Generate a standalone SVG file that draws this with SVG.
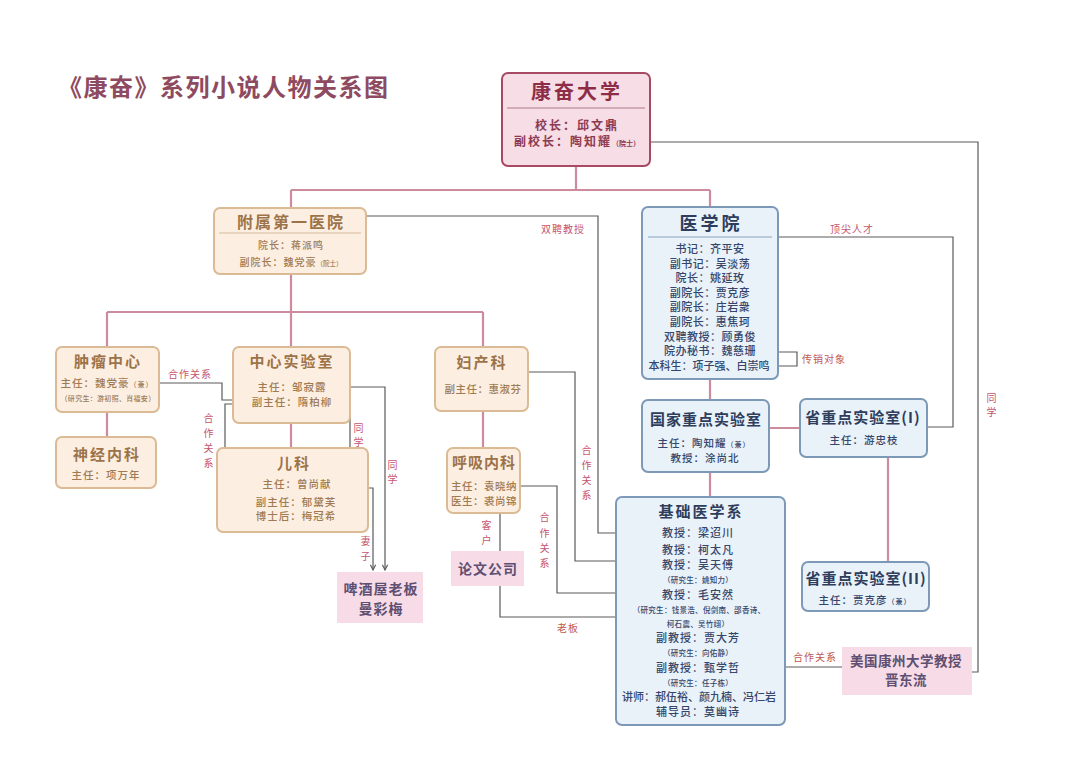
<svg xmlns="http://www.w3.org/2000/svg" width="1080" height="782" viewBox="0 0 1080 782">
<defs>
<style>
text{font-family:"Noto Sans CJK SC","Noto Sans",sans-serif;text-anchor:middle}
.tree{stroke:#cd8c9e;stroke-width:2.2;fill:none}
.link{stroke:#5a5a5a;stroke-width:1.2;fill:none}
.pk{fill:#f6dde6;stroke:#a84a64;stroke-width:2}
.pe{fill:#fcefe2;stroke:#dbbb95;stroke-width:2}
.bl{fill:#e9f1f9;stroke:#7d99b8;stroke-width:2}
.pp{fill:#f7dce7}
.sep-pk{stroke:#c99aa8;stroke-width:1.5}
.sep-pe{stroke:#e3cdb0;stroke-width:1.5}
.sep-bl{stroke:#a8bcd2;stroke-width:1.5}
.h-pk{fill:#8d2d48;font-weight:700}
.b-pk{fill:#8d3a52;font-weight:700}
.h-pe{fill:#9c7349;font-weight:700}
.b-pe{fill:#a07a52;font-weight:500}
.h-bl{fill:#2e3d5c;font-weight:700}
.b-bl{fill:#36466a;font-weight:500}
.t-pp{fill:#5f4f72;font-weight:700}
.lab{fill:#c4546e;font-size:10px;letter-spacing:1px}
.lab2{fill:#c0584e;font-size:10px;letter-spacing:1px}
</style>
<marker id="arr" viewBox="0 0 8 8" refX="7" refY="4" markerWidth="7" markerHeight="7" markerUnits="userSpaceOnUse" orient="auto">
<path d="M1,1 L7,4 L1,7" fill="none" stroke="#5a5a5a" stroke-width="1.3"/>
</marker>
</defs>
<rect width="1080" height="782" fill="#ffffff"/>

<text x="58" y="96" style="text-anchor:start;font-size:24px;letter-spacing:1.5px;fill:#8e4a60;font-weight:700">《康奋》系列小说人物关系图</text>

<g id="connectors">
<path class="tree" d="M576,166 V190 M291,190 H710 M291,190 V208 M710,190 V207"/>
<path class="tree" d="M291,274 V312 M107,312 H483 M107,312 V347 M291,312 V347 M483,312 V347"/>
<path class="tree" d="M107,412 V437 M291,423 V448 M483,411 V448"/>
<path class="tree" d="M710,379 V400 M769,428 H800 M888,457 V562 M710,472 V497"/>
<path class="link" d="M643,142 H978 V672 H972"/>
<path class="link" d="M366,216 H598 V533 H658"/>
<path class="link" d="M778,237 H953 V427 H927"/>
<path class="link" d="M757,352 H797 V366 H772" marker-end="url(#arr)"/>
<path class="link" d="M528,372 H575 V561 H660"/>
<path class="link" d="M520,486 H557 V593 H660"/>
<path class="link" d="M500,513 V551"/>
<path class="link" d="M500,586 V617 H713 V611 M680,617 V611"/>
<path class="link" d="M750,667 H842"/>
<path class="link" d="M159,383 H222 V400 H248"/>
<path class="link" d="M248,404 H225 V484 H258"/>
<path class="link" d="M327,387 H385 V570" marker-end="url(#arr)"/>
<path class="link" d="M350,387 V484 H334" marker-end="url(#arr)"/>
<path class="link" d="M336,488 H373 V570" marker-end="url(#arr)"/>
<text class="lab" x="563" y="233">双聘教授</text>
<text class="lab" x="852" y="233">顶尖人才</text>
<text class="lab2" x="824" y="363">传销对象</text>
<text class="lab" x="992" y="402">同</text><text class="lab" x="992" y="416">学</text>
<text class="lab" x="190" y="378">合作关系</text>
<text class="lab" x="209" y="422">合</text><text class="lab" x="209" y="437">作</text><text class="lab" x="209" y="452">关</text><text class="lab" x="209" y="467">系</text>
<text class="lab" x="359" y="432">同</text><text class="lab" x="359" y="446">学</text>
<text class="lab" x="393" y="469">同</text><text class="lab" x="393" y="483">学</text>
<text class="lab" x="366" y="545">妻</text><text class="lab" x="366" y="560">子</text>
<text class="lab" x="487" y="529">客</text><text class="lab" x="487" y="544">户</text>
<text class="lab" x="587" y="454">合</text><text class="lab" x="587" y="469">作</text><text class="lab" x="587" y="484">关</text><text class="lab" x="587" y="499">系</text>
<text class="lab" x="545" y="521">合</text><text class="lab" x="545" y="537">作</text><text class="lab" x="545" y="552">关</text><text class="lab" x="545" y="567">系</text>
<text class="lab2" x="568" y="632">老板</text>
<text class="lab2" x="815" y="661">合作关系</text>
</g>

<g id="kangfen-univ">
<rect class="pk" x="502" y="73" width="148" height="93" rx="6"/>
<text class="h-pk" x="577" y="99" style="font-size:20px;letter-spacing:3px">康奋大学</text>
<line class="sep-pk" x1="507" y1="108" x2="645" y2="108"/>
<text class="b-pk" x="577" y="130" style="font-size:12px;letter-spacing:2px">校长：邱文鼎</text>
<text class="b-pk" x="577" y="146" style="font-size:12px;letter-spacing:2px">副校长：陶知耀<tspan style="font-size:7px;letter-spacing:0">（院士）</tspan></text>
</g>

<g id="hospital">
<rect class="pe" x="214" y="208" width="152" height="66" rx="6"/>
<text class="h-pe" x="291" y="228" style="font-size:16px;letter-spacing:2px">附属第一医院</text>
<line class="sep-pe" x1="219" y1="233" x2="361" y2="233"/>
<text class="b-pe" x="291" y="249" style="font-size:10px;letter-spacing:1px">院长：蒋派鸣</text>
<text class="b-pe" x="291" y="266" style="font-size:10px;letter-spacing:1px">副院长：魏党豪<tspan style="font-size:6.5px;letter-spacing:0">（院士）</tspan></text>
</g>

<g id="medical-school">
<rect class="bl" x="642" y="207" width="136" height="172" rx="6"/>
<text class="h-bl" x="711" y="230" style="font-size:18px;letter-spacing:3px">医学院</text>
<line class="sep-bl" x1="648" y1="237" x2="772" y2="237"/>
<g class="b-bl" style="font-size:11px;letter-spacing:0.5px">
<text x="710" y="253">书记：齐平安</text>
<text x="710" y="268">副书记：吴淡荡</text>
<text x="710" y="282">院长：姚延玫</text>
<text x="710" y="297">副院长：贾克彦</text>
<text x="710" y="311">副院长：庄岩衆</text>
<text x="710" y="326">副院长：惠焦珂</text>
<text x="710" y="341">双聘教授：顾勇俊</text>
<text x="710" y="355">院办秘书：魏慈珊</text>
<text x="709" y="370" style="letter-spacing:0">本科生：项子强、白崇鸣</text>
</g>
</g>

<g id="national-lab">
<rect class="bl" x="642" y="400" width="127" height="72" rx="6"/>
<text class="h-bl" x="706" y="425" style="font-size:15px;letter-spacing:1px">国家重点实验室</text>
<text class="b-bl" x="704" y="447" style="font-size:10.5px;letter-spacing:1px">主任：陶知耀<tspan style="font-size:7px">（兼）</tspan></text>
<text class="b-bl" x="705" y="462" style="font-size:10.5px;letter-spacing:1px">教授：涂尚北</text>
</g>

<g id="prov-lab-1">
<rect class="bl" x="800" y="399" width="127" height="58" rx="6"/>
<text class="h-bl" x="863" y="423" style="font-size:15px;letter-spacing:1px">省重点实验室(I)</text>
<text class="b-bl" x="864" y="444" style="font-size:10.5px;letter-spacing:1px">主任：游忠枝</text>
</g>

<g id="prov-lab-2">
<rect class="bl" x="802" y="562" width="127" height="49" rx="6"/>
<text class="h-bl" x="866" y="584" style="font-size:15px;letter-spacing:1px">省重点实验室(II)</text>
<text class="b-bl" x="865" y="604" style="font-size:10.5px;letter-spacing:1px">主任：贾克彦<tspan style="font-size:7px">（兼）</tspan></text>
</g>

<g id="basic-med">
<rect class="bl" x="616" y="497" width="169" height="228" rx="6"/>
<text class="h-bl" x="701" y="517" style="font-size:15px;letter-spacing:2px">基础医学系</text>
<g class="b-bl" style="font-size:11px;letter-spacing:1px">
<text x="698" y="537">教授：梁迢川</text>
<text x="698" y="554">教授：柯太凡</text>
<text x="698" y="569">教授：吴天傅</text>
<text x="698" y="599">教授：毛安然</text>
<text x="698" y="642">副教授：贾大芳</text>
<text x="698" y="672">副教授：甄学哲</text>
<text x="699" y="701" style="letter-spacing:0">讲师：郝伍裕、颜九楠、冯仁岩</text>
<text x="698" y="716">辅导员：莫幽诗</text>
</g>
<g class="b-bl" style="font-size:7.5px;letter-spacing:0.3px">
<text x="698" y="583">（研究生：姚知力）</text>
<text x="699" y="613">（研究生：钱景浩、倪剑南、邵香诗、</text>
<text x="698" y="627">柯石震、吴竹翊）</text>
<text x="698" y="656">（研究生：向佑静）</text>
<text x="698" y="686">（研究生：任子栋）</text>
</g>
</g>

<g id="tumor-center">
<rect class="pe" x="56" y="347" width="103" height="65" rx="6"/>
<text class="h-pe" x="108" y="367" style="font-size:15px;letter-spacing:2px">肿瘤中心</text>
<text class="b-pe" x="107" y="387" style="font-size:10.5px;letter-spacing:1px">主任：魏党豪<tspan style="font-size:7px">（兼）</tspan></text>
<text class="b-pe" x="108" y="401" style="font-size:7px;letter-spacing:0.3px">（研究生：游初照、肖福安）</text>
</g>

<g id="neurology">
<rect class="pe" x="56" y="437" width="100" height="51" rx="6"/>
<text class="h-pe" x="107" y="460" style="font-size:15px;letter-spacing:2px">神经内科</text>
<text class="b-pe" x="106" y="479" style="font-size:10.5px;letter-spacing:1px">主任：项万年</text>
</g>

<g id="central-lab">
<rect class="pe" x="233" y="347" width="117" height="76" rx="6"/>
<text class="h-pe" x="292" y="367" style="font-size:15px;letter-spacing:2px">中心实验室</text>
<text class="b-pe" x="292" y="391" style="font-size:10.5px;letter-spacing:1px">主任：邹寂露</text>
<text class="b-pe" x="292" y="406" style="font-size:10.5px;letter-spacing:1px">副主任：隋柏柳</text>
</g>

<g id="pediatrics">
<rect class="pe" x="217" y="448" width="151" height="84" rx="6"/>
<text class="h-pe" x="294" y="469" style="font-size:15px;letter-spacing:2px">儿科</text>
<text class="b-pe" x="297" y="488" style="font-size:10.5px;letter-spacing:1px">主任：曾尚献</text>
<text class="b-pe" x="296" y="506" style="font-size:10.5px;letter-spacing:1px">副主任：郁黛芙</text>
<text class="b-pe" x="296" y="520" style="font-size:10.5px;letter-spacing:1px">博士后：梅冠希</text>
</g>

<g id="obgyn">
<rect class="pe" x="435" y="347" width="93" height="64" rx="6"/>
<text class="h-pe" x="482" y="368" style="font-size:15px;letter-spacing:2px">妇产科</text>
<text class="b-pe" x="483" y="393" style="font-size:10.5px;letter-spacing:0.5px">副主任：惠淑芬</text>
</g>

<g id="respiratory">
<rect class="pe" x="447" y="448" width="73" height="65" rx="6"/>
<text class="h-pe" x="484" y="468" style="font-size:15px;letter-spacing:1px">呼吸内科</text>
<text class="b-pe" x="484" y="490" style="font-size:10.5px;letter-spacing:0.5px">主任：袁晓纳</text>
<text class="b-pe" x="484" y="505" style="font-size:10.5px;letter-spacing:0.5px">医生：裘尚锦</text>
</g>

<g id="paper-company">
<rect class="pp" x="451" y="551" width="73" height="35"/>
<text class="t-pp" x="488" y="574" style="font-size:14px;letter-spacing:1px">论文公司</text>
</g>

<g id="beer-boss">
<rect class="pp" x="337" y="572" width="86" height="51"/>
<text class="t-pp" x="381" y="594" style="font-size:14px;letter-spacing:1px">啤酒屋老板</text>
<text class="t-pp" x="381" y="614" style="font-size:14px;letter-spacing:1px">曼彩梅</text>
</g>

<g id="us-professor">
<rect class="pp" x="842" y="647" width="130" height="48"/>
<text class="t-pp" x="906" y="666" style="font-size:13.5px;letter-spacing:0.5px">美国康州大学教授</text>
<text class="t-pp" x="906" y="685" style="font-size:13.5px;letter-spacing:0.5px">晋东流</text>
</g>
</svg>
